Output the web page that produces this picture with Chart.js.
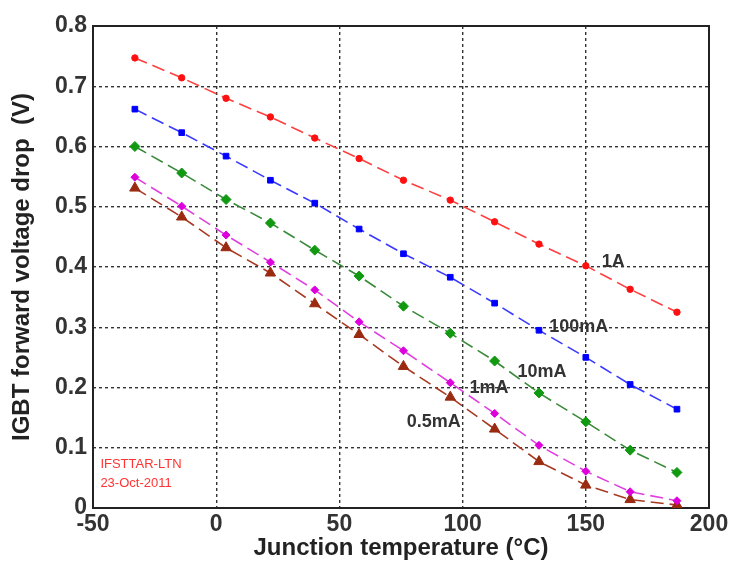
<!DOCTYPE html>
<html>
<head>
<meta charset="utf-8">
<script src="https://cdn.jsdelivr.net/npm/chart.js@4"></script>
<style>
  html, body { margin: 0; padding: 0; background: #fff; }
  #wrap { width: 733px; height: 563px; }
</style>
</head>
<body>
<div id="wrap"><canvas id="chart" width="733" height="563"></canvas></div>
<script>
// Junction temperatures (°C)
const temps = [-33, -14, 4, 22, 40, 58, 76, 95, 113, 131, 150, 168, 187];

// Forward voltage drop (V) for each current
const v1A    = [0.747, 0.714, 0.680, 0.649, 0.614, 0.580, 0.544, 0.511, 0.475, 0.438, 0.402, 0.363, 0.325];
const v100mA = [0.662, 0.623, 0.584, 0.544, 0.506, 0.463, 0.422, 0.383, 0.340, 0.295, 0.250, 0.205, 0.164];
const v10mA  = [0.600, 0.556, 0.512, 0.473, 0.428, 0.385, 0.335, 0.290, 0.244, 0.191, 0.143, 0.096, 0.059];
const v1mA   = [0.549, 0.501, 0.453, 0.408, 0.362, 0.309, 0.261, 0.208, 0.157, 0.104, 0.061, 0.027, 0.012];
const v05mA  = [0.531, 0.483, 0.432, 0.390, 0.339, 0.288, 0.235, 0.184, 0.131, 0.077, 0.038, 0.014, 0.005];

const seriesNames = ["1A", "100mA", "10mA", "1mA", "0.5mA"];
const seriesValues = [v1A, v100mA, v10mA, v1mA, v05mA];
const lineColors = ["#ff4040", "#3a3aff", "#3a8a3a", "#e040e0", "#a83a22"];
const pointColors = ["#ff1010", "#0000ff", "#119911", "#dd00dd", "#9a2a10"];
const pointShapes = ["circle", "rect", "rectRot", "rectRot", "triangle"];
const pointSizes = [3.2, 4, 5, 4, 6];

// Curve labels placed in data coordinates
const curveLabels = [
  { text: "1A", x: 156.5, y: 0.408 },
  { text: "100mA", x: 135.2, y: 0.300 },
  { text: "10mA", x: 122.3, y: 0.226 },
  { text: "1mA", x: 102.8, y: 0.199 },
  { text: "0.5mA", x: 77.3, y: 0.143 },
];

const datasets = seriesNames.map((name, i) => ({
  label: name,
  data: temps.map((t, j) => ({ x: t, y: seriesValues[i][j] })),
  showLine: true,
  borderColor: lineColors[i],
  borderWidth: 1.6,
  borderDash: [13, 6],
  pointStyle: pointShapes[i],
  pointRadius: pointSizes[i],
  pointBackgroundColor: pointColors[i],
  pointBorderColor: pointColors[i],
  pointBorderWidth: 1,
}));

const annotations = {
  id: "annotations",
  beforeDatasetsDraw(chart) {
    const { ctx, chartArea } = chart;
    ctx.save();
    ctx.strokeStyle = "#222";
    ctx.lineWidth = 2;
    ctx.strokeRect(chartArea.left, chartArea.top,
      chartArea.right - chartArea.left, chartArea.bottom - chartArea.top);
    ctx.restore();
  },
  afterDatasetsDraw(chart) {
    const { ctx } = chart;
    const xs = chart.scales.x;
    const ys = chart.scales.y;
    ctx.save();
    ctx.fillStyle = "#333";
    ctx.font = "bold 18px 'Liberation Sans', Arial, sans-serif";
    ctx.textAlign = "left";
    ctx.textBaseline = "middle";
    curveLabels.forEach((l) => {
      ctx.fillText(l.text, xs.getPixelForValue(l.x), ys.getPixelForValue(l.y));
    });
    // watermark
    ctx.fillStyle = "#ff3333";
    ctx.font = "13px 'Liberation Sans', Arial, sans-serif";
    ctx.fillText("IFSTTAR-LTN", xs.getPixelForValue(-47), ys.getPixelForValue(0.073));
    ctx.fillText("23-Oct-2011", xs.getPixelForValue(-47), ys.getPixelForValue(0.041));
    ctx.restore();
  },
};

const tickFont = { family: "'Liberation Sans', Arial, sans-serif", size: 23, weight: "bold" };
const titleFont = { family: "'Liberation Sans', Arial, sans-serif", size: 24, weight: "bold" };

new Chart(document.getElementById("chart"), {
  type: "scatter",
  data: { datasets: datasets },
  plugins: [annotations],
  options: {
    responsive: false,
    animation: false,
    layout: { padding: { top: 26, right: 24, left: 0, bottom: 0 } },
    plugins: {
      legend: { display: false },
      tooltip: { enabled: false },
    },
    scales: {
      x: {
        type: "linear",
        min: -50,
        max: 200,
        afterFit: (scale) => { scale.height = 55; },
        ticks: { stepSize: 50, color: "#333", font: tickFont, padding: 3 },
        grid: { color: "#333", lineWidth: 1.4, drawTicks: false },
        border: { display: false, dash: [3, 3] },
        title: {
          display: true,
          text: "Junction temperature (°C)",
          color: "#222",
          font: titleFont,
          padding: { top: 4, bottom: 0 },
        },
      },
      y: {
        min: 0,
        max: 0.8,
        afterFit: (scale) => { scale.width = 93; },
        ticks: {
          stepSize: 0.1,
          color: "#333",
          font: tickFont,
          padding: 6,
          callback: (v) => (Math.round(v * 10) / 10).toString(),
        },
        grid: { color: "#333", lineWidth: 1.4, drawTicks: false },
        border: { display: false, dash: [3, 3] },
        title: {
          display: true,
          text: "IGBT forward voltage drop  (V)",
          color: "#222",
          font: titleFont,
          padding: { top: 8, bottom: 0 },
        },
      },
    },
  },
});
</script>
</body>
</html>
